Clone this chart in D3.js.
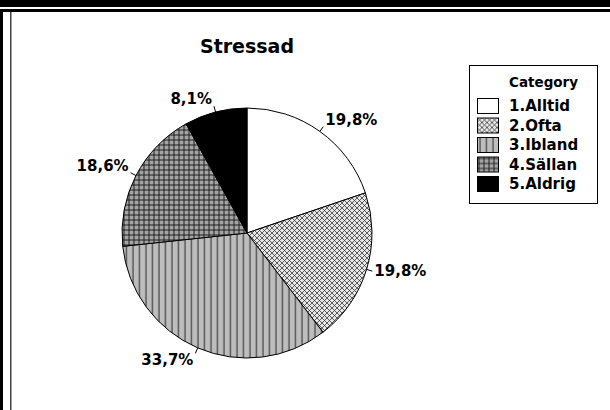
<!DOCTYPE html>
<html>
<head>
<meta charset="utf-8">
<script src="https://cdn.jsdelivr.net/npm/d3@7"></script>
<style>
  body { margin: 0; background: #fff; }
  svg { display: block; font-family: "DejaVu Sans", Verdana, sans-serif; }
</style>
</head>
<body>
<svg id="chart" width="610" height="410"></svg>
<script>
const categories = ["1.Alltid", "2.Ofta", "3.Ibland", "4.Sällan", "5.Aldrig"];
const percents = [19.8, 19.8, 33.7, 18.6, 8.1];
const labels = ["19,8%", "19,8%", "33,7%", "18,6%", "8,1%"];
const fills = ["#ffffff", "url(#p-ofta)", "url(#p-ibland)", "url(#p-sallan)", "#000000"];

const svg = d3.select("#chart");
const width = 610, height = 410;

// patterns
const defs = svg.append("defs");
const pOfta = defs.append("pattern").attr("id", "p-ofta")
  .attr("patternUnits", "userSpaceOnUse").attr("width", 5).attr("height", 5);
pOfta.append("rect").attr("width", 5).attr("height", 5).attr("fill", "#e6e6e6");
pOfta.append("path").attr("d", "M0,0L5,5M5,0L0,5").attr("stroke", "#222").attr("stroke-width", 0.7);

const pIbl = defs.append("pattern").attr("id", "p-ibland")
  .attr("patternUnits", "userSpaceOnUse").attr("width", 6.5).attr("height", 6.5);
pIbl.append("rect").attr("width", 6.5).attr("height", 6.5).attr("fill", "#bdbdbd");
pIbl.append("path").attr("d", "M3,0V6.5").attr("stroke", "#4a4a4a").attr("stroke-width", 1.3);

const pSal = defs.append("pattern").attr("id", "p-sallan")
  .attr("patternUnits", "userSpaceOnUse").attr("width", 5).attr("height", 5);
pSal.append("rect").attr("width", 5).attr("height", 5).attr("fill", "#a4a4a4");
pSal.append("path").attr("d", "M2,0V5M0,2H5").attr("stroke", "#111").attr("stroke-width", 0.9);

// frame
svg.append("rect").attr("x", 0).attr("y", 0).attr("width", width).attr("height", 7).attr("fill", "#000");
svg.append("rect").attr("x", 2).attr("y", 9).attr("width", width - 2).attr("height", 3).attr("fill", "#000");
svg.append("rect").attr("x", 0).attr("y", 9).attr("width", 3).attr("height", height - 9).attr("fill", "#000");
svg.append("rect").attr("x", 10).attr("y", 12).attr("width", 1.5).attr("height", height - 12).attr("fill", "#444");

// title
svg.append("text")
  .attr("x", 247).attr("y", 53)
  .attr("text-anchor", "middle")
  .attr("font-size", "19px").attr("font-weight", "bold")
  .text("Stressad");

const cx = 247, cy = 233, r = 125;
const g = svg.append("g").attr("transform", `translate(${cx},${cy})`);

const pie = d3.pie().sort(null).value(d => d);
const arcs = pie(percents);
const arc = d3.arc().innerRadius(0).outerRadius(r);

g.selectAll(".slice")
  .data(arcs)
  .enter()
  .append("path")
  .attr("class", "slice")
  .attr("d", arc)
  .attr("fill", (d, i) => fills[i])
  .attr("stroke", "#000")
  .attr("stroke-width", 1);

// leader ticks and labels
arcs.forEach((d, i) => {
  const a = (d.startAngle + d.endAngle) / 2;
  const s = Math.sin(a), c = -Math.cos(a);
  const x0 = s * r, y0 = c * r;
  const x1 = s * (r + 6), y1 = c * (r + 6);
  g.append("line")
    .attr("x1", x0).attr("y1", y0).attr("x2", x1).attr("y2", y1)
    .attr("stroke", "#000").attr("stroke-width", 1);
  const cosUp = Math.cos(a);
  let dy = 5;
  if (cosUp > 0.4) dy = -2;
  else if (cosUp < -0.4) dy = 12;
  g.append("text")
    .attr("x", x1 + (s >= 0 ? 2 : -2))
    .attr("y", y1 + dy)
    .attr("text-anchor", s >= 0 ? "start" : "end")
    .attr("font-size", "15px").attr("font-weight", "bold")
    .text(labels[i]);
});

// legend
const legend = svg.append("g").attr("transform", "translate(469,65)");
legend.append("rect")
  .attr("x", 0.5).attr("y", 0.5).attr("width", 128).attr("height", 138)
  .attr("fill", "#fff").attr("stroke", "#000").attr("stroke-width", 1);
legend.append("text")
  .attr("x", 40).attr("y", 22)
  .attr("font-size", "13.5px").attr("font-weight", "bold")
  .text("Category");

categories.forEach((cat, i) => {
  const item = legend.append("g").attr("transform", `translate(8,${33 + i * 19.5})`);
  item.append("rect")
    .attr("x", 0.5).attr("y", 0.5).attr("width", 21).attr("height", 15)
    .attr("fill", fills[i]).attr("stroke", "#000").attr("stroke-width", 1);
  item.append("text")
    .attr("x", 32).attr("y", 13)
    .attr("font-size", "15px").attr("font-weight", "bold")
    .text(cat);
});
</script>
</body>
</html>
